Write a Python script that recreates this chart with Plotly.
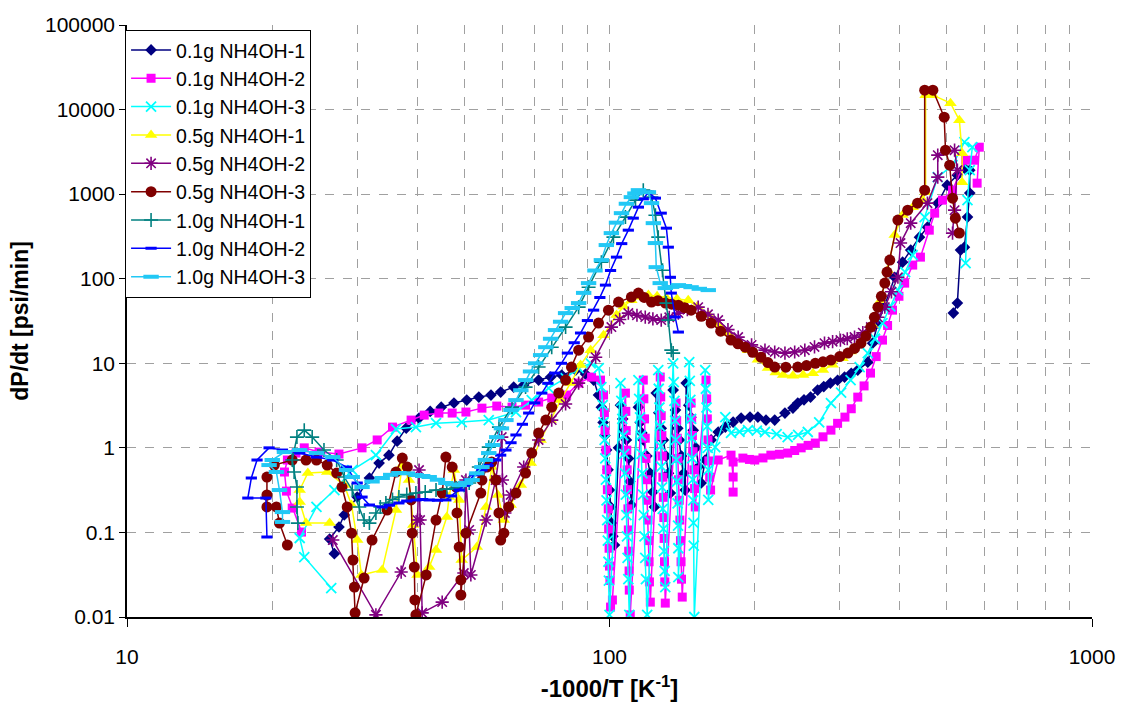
import plotly.graph_objects as go

# ---- measured data: dP/dt [psi/min] against -1000/T [1/K], as (x, y) pairs ----
a1 = [(26.9, 0.056), (26.3, 0.0836), (27.5, 0.116), (28.2, 0.161), (30.0, 0.262), (31.8, 0.44), (33.3, 0.66),
      (34.9, 0.82), (36.3, 1.2), (37.9, 1.71), (40.3, 2.25), (42.5, 2.7), (44.8, 3.03), (47.6, 3.39), (50.6, 3.67),
      (53.6, 3.98), (56.8, 4.21), (59.5, 4.57), (63.3, 5.23), (66.4, 5.52), (71.3, 6.33), (75.5, 6.87), (79.6, 7.25),
      (85.1, 8.31), (89.2, 7.45), (92.7, 6.33), (94.9, 4.21), (96.2, 3.03), (97.0, 2.0), (97.8, 1.4), (98.6, 0.942),
      (99.3, 0.55), (100.0, 0.317), (100.5, 0.2), (100.9, 0.129), (101.6, 0.09), (102.4, 0.071), (104.4, 1.0),
      (105.4, 3.2), (106.5, 2.2), (107.5, 1.6), (108.4, 1.24), (109.5, 0.75), (110.2, 0.4), (111.0, 0.211),
      (114.8, 3.03), (115.8, 2.0), (116.7, 1.5), (117.5, 1.24), (119.5, 0.8), (121.5, 0.5), (123.0, 0.3),
      (123.9, 0.2), (125.0, 4.44), (126.5, 2.6), (128.0, 1.7), (129.3, 1.24), (131.0, 0.8), (132.5, 0.5),
      (133.7, 0.292), (135.5, 4.82), (137.0, 2.8), (138.5, 1.7), (139.6, 1.24), (141.0, 0.8), (142.5, 0.5),
      (143.5, 0.317), (144.2, 5.83), (146.0, 3.2), (147.5, 2.3), (149.1, 1.62), (151.0, 1.0), (153.0, 0.6),
      (154.9, 0.384), (157.9, 0.718), (162.4, 1.24), (168.0, 1.54), (173.8, 1.76), (180.4, 2.02), (187.4, 2.25),
      (195.5, 2.31), (203.0, 2.31), (211.0, 2.13), (220.0, 2.13), (231.0, 2.58), (240.0, 2.95), (245.6, 3.39),
      (253.0, 3.7), (261.0, 3.98), (270.0, 4.82), (278.0, 5.3), (287.0, 5.83), (297.0, 6.3), (307.0, 6.87),
      (317.0, 7.6), (327.0, 8.31), (343.0, 10.3), (351.0, 17.3), (360.0, 29.9), (372.0, 48.7), (390.0, 104),
      (405.0, 157), (421.0, 218), (439.0, 310), (456.0, 407), (479.0, 783), (501.0, 1277), (526.0, 1678),
      (544.0, 2030), (558.0, 1920), (558.0, 1030), (552.0, 535), (544.0, 236), (534.0, 218), (526.0, 51.5),
      (516.0, 39.2)]

a2 = [(23.0, 0.101), (22.0, 0.194), (21.4, 0.308), (21.2, 0.518), (21.5, 0.718), (22.4, 0.868), (23.3, 1.0),
      (25.0, 0.892), (27.5, 0.845), (30.7, 1.0), (33.0, 1.24), (35.5, 1.76), (38.8, 2.13), (41.3, 2.44),
      (44.3, 2.58), (47.2, 2.58), (50.4, 2.65), (54.4, 2.95), (58.4, 3.12), (62.8, 3.03), (67.0, 3.2), (71.3, 3.48),
      (75.9, 3.88), (81.5, 4.21), (86.3, 5.83), (91.8, 6.87), (95.8, 6.33), (97.2, 4.21),
      (97.6, 2.6), (97.9, 1.6), (98.3, 0.94), (98.7, 0.55), (99.0, 0.32), (99.4, 0.19), (99.6, 0.11),
      (99.8, 0.065), (100.0, 0.04), (100.2, 0.027), (100.5, 0.0131), (101.4, 0.0159),
      (107.9, 4.44), (108.1, 2.7), (108.3, 1.6), (108.6, 0.94), (108.8, 0.55), (109.0, 0.32), (109.2, 0.19),
      (109.4, 0.107), (109.6, 0.06), (109.8, 0.035), (109.9, 0.0208), (110.4, 0.0106),
      (117.5, 6.33), (117.8, 3.8), (118.2, 2.2), (118.6, 1.3), (119.0, 0.75), (119.4, 0.42), (119.8, 0.24),
      (120.2, 0.14), (120.5, 0.08), (120.8, 0.045), (121.0, 0.026), (121.5, 0.015),
      (127.4, 6.87), (127.7, 4.0), (128.0, 2.4), (128.4, 1.4), (128.7, 0.8), (129.0, 0.45), (129.3, 0.26),
      (129.6, 0.15), (129.8, 0.085), (130.0, 0.045), (130.2, 0.026), (130.5, 0.0146),
      (137.4, 3.39), (137.8, 2.1), (138.2, 1.3), (138.6, 0.75), (139.0, 0.42), (139.5, 0.24), (139.9, 0.14),
      (140.3, 0.08), (140.7, 0.045), (141.0, 0.028), (141.5, 0.0172),
      (147.6, 3.39), (148.0, 2.2), (148.5, 1.4), (149.0, 0.9), (149.6, 0.55), (150.1, 0.33), (150.6, 0.2),
      (158.5, 6.33), (159.0, 3.8), (159.5, 2.2), (160.0, 1.24), (160.6, 0.7), (161.3, 0.45), (162.0, 0.317),
      (168.0, 0.718), (178.6, 0.82), (180.4, 0.452), (180.4, 0.3), (180.4, 0.68), (189.0, 0.757), (195.0, 0.73),
      (200.0, 0.718), (208.0, 0.76), (216.0, 0.82), (225.0, 0.84), (234.0, 0.868), (242.0, 0.93), (249.6, 1.0),
      (258.0, 1.07), (267.0, 1.14), (277.0, 1.35), (287.7, 1.62), (297.0, 1.95), (307.6, 2.31), (317.0, 2.9),
      (327.0, 3.98), (337.0, 5.4), (347.5, 7.66), (357.0, 12.0), (368.0, 18.8), (377.0, 28.0), (386.0, 42.5),
      (398.0, 62.0), (409.0, 88.7), (425.0, 145), (441.0, 180), (460.0, 375), (472.0, 596), (490.0, 849),
      (514.0, 1115), (547.0, 2520), (570.0, 2520), (584.0, 3590), (578.0, 1349)]

a3 = [(26.5, 0.022), (23.3, 0.0512), (22.8, 0.0859), (24.7, 0.2), (26.9, 0.317), (29.3, 0.547), (32.8, 0.82),
      (36.1, 1.67), (39.7, 1.76), (43.7, 1.96), (49.4, 2.02), (56.2, 2.13), (64.0, 2.65), (69.0, 3.67), (74.8, 5.09),
      (81.1, 6.68), (86.3, 8.77), (91.4, 10.0), (95.0, 8.77),
      (96.2, 5.23), (96.8, 3.2), (97.2, 2.0), (97.7, 1.24), (98.0, 0.75), (98.3, 0.42), (98.6, 0.24),
      (98.9, 0.14), (99.2, 0.08), (99.5, 0.045), (99.7, 0.027), (100.0, 0.0106),
      (105.4, 5.83), (105.8, 3.6), (106.3, 2.2), (106.8, 1.4), (107.3, 0.85), (107.7, 0.5), (108.1, 0.28),
      (108.4, 0.16), (108.7, 0.09), (109.0, 0.05), (109.4, 0.028), (109.9, 0.0106),
      (114.8, 6.33), (115.2, 3.8), (115.7, 2.3), (116.2, 1.4), (116.6, 0.85), (117.0, 0.5), (117.4, 0.28),
      (117.8, 0.16), (118.2, 0.09), (118.6, 0.05), (119.0, 0.028), (119.7, 0.0106),
      (126.2, 8.31), (126.5, 5.0), (126.9, 3.0), (127.3, 1.8), (127.7, 1.05), (128.1, 0.6), (128.5, 0.34),
      (128.9, 0.19), (129.3, 0.11), (129.7, 0.06), (130.1, 0.035), (130.5, 0.0226),
      (135.5, 10.0), (135.9, 6.0), (136.3, 3.6), (136.8, 2.1), (137.2, 1.24), (137.6, 0.72), (138.0, 0.4),
      (138.4, 0.22), (138.7, 0.12), (138.9, 0.065), (138.9, 0.0297),
      (146.3, 10.3), (146.7, 6.2), (147.1, 3.7), (147.6, 2.2), (148.0, 1.3), (148.4, 0.75), (148.8, 0.42),
      (149.1, 0.24), (149.3, 0.13), (149.5, 0.07), (149.9, 0.01),
      (157.9, 8.31), (158.4, 5.0), (158.9, 3.0), (159.3, 1.8), (159.8, 1.0), (160.2, 0.55), (160.2, 0.242),
      (165.6, 1.02), (173.8, 2.31), (178.6, 1.5), (186.0, 1.55), (193.7, 1.62), (202.0, 1.6), (210.0, 1.54),
      (222.0, 1.45), (234.0, 1.34), (246.0, 1.42), (257.6, 1.54), (272.0, 2.0), (287.7, 3.39), (302.0, 4.5),
      (316.0, 6.33), (330.0, 9.0), (343.0, 13.2), (355.0, 19.5), (368.0, 29.9), (382.0, 47.0), (396.0, 73.3),
      (410.0, 120), (425.0, 190), (450.0, 535), (479.0, 1589), (514.0, 2200), (544.0, 4120), (565.0, 3590),
      (558.0, 1920), (552.0, 849), (547.0, 153)]

b1 = [(26.3, 0.129), (23.5, 0.129), (22.8, 0.229), (22.8, 0.317), (23.7, 0.504), (26.0, 0.518), (28.2, 0.363),
      (29.2, 0.211), (30.0, 0.0813), (30.6, 0.0314), (33.8, 0.036), (36.1, 0.184), (37.2, 0.626), (38.4, 0.416),
      (39.2, 0.122), (40.0, 0.0314), (42.3, 0.039), (43.7, 0.0619), (46.0, 0.152), (46.5, 0.262), (47.6, 0.547),
      (48.8, 0.242), (49.4, 0.0472), (53.1, 0.0672), (55.5, 0.2), (57.0, 0.593), (58.7, 0.277), (60.4, 0.14),
      (62.4, 0.211), (65.5, 0.363), (68.7, 0.66), (72.0, 1.24), (75.5, 2.13), (79.2, 3.67), (83.0, 5.83),
      (87.1, 9.52), (91.4, 14.3), (97.2, 21.5), (103.4, 37.2), (107.0, 47.0), (111.0, 55.8), (115.5, 61.0),
      (120.4, 64.0), (125.5, 62.0), (131.2, 59.0), (138.0, 57.5), (145.6, 55.8), (152.0, 47.0), (160.2, 37.2),
      (168.0, 29.0), (176.2, 22.8), (185.0, 18.0), (193.7, 14.3), (203.0, 11.0), (213.0, 8.77), (221.0, 7.8),
      (229.0, 7.25), (240.0, 7.1), (252.0, 7.25), (264.0, 7.6), (277.0, 8.31), (290.0, 9.6), (304.0, 11.5),
      (316.0, 13.8), (330.0, 17.3), (351.0, 28.2), (365.0, 55.8), (377.0, 126), (390.0, 328), (405.0, 565),
      (425.0, 702), (446.0, 849), (452.0, 1055), (452.0, 14800), (468.0, 14800), (509.0, 11900), (531.0, 7500),
      (538.0, 3050), (538.0, 1387)]

b2 = [(26.7, 0.0813), (32.8, 0.0106), (37.0, 0.034), (40.0, 0.14), (40.3, 0.547), (40.5, 0.14), (40.9, 0.0112),
      (45.0, 0.015), (49.9, 0.0331), (50.4, 0.416), (51.2, 0.107), (51.6, 0.0314), (55.5, 0.14), (58.1, 0.416),
      (59.8, 1.34), (60.0, 0.416), (60.7, 0.17), (62.4, 0.277), (66.4, 0.593), (71.3, 1.24), (75.9, 2.13),
      (81.1, 3.3), (86.3, 5.83), (93.6, 11.8), (100.9, 26.8), (105.0, 33.0), (109.4, 39.2), (114.0, 37.0),
      (118.6, 35.2), (123.0, 33.5), (128.0, 32.4), (133.0, 35.0), (138.9, 39.2), (145.0, 43.0), (152.7, 46.1),
      (160.0, 38.0), (168.0, 32.4), (176.0, 25.0), (184.8, 20.4), (197.0, 16.5), (210.0, 14.3), (220.0, 13.6),
      (231.0, 13.2), (242.0, 13.6), (254.0, 14.3), (266.0, 15.6), (279.0, 17.3), (290.0, 18.0), (301.0, 18.8),
      (311.0, 19.5), (322.0, 20.4), (335.0, 23.0), (348.0, 26.8), (360.0, 35.0), (372.0, 46.1), (384.0, 70.0),
      (396.0, 104), (401.0, 264), (421.0, 454), (456.0, 783), (479.0, 1589), (479.0, 2890), (519.0, 3310),
      (526.0, 1920), (519.0, 647), (514.0, 346)]

b3 = [(21.5, 0.071), (20.7, 0.129), (20.4, 0.2), (19.5, 0.2), (19.5, 0.277), (19.5, 0.452), (20.2, 0.626),
      (22.0, 0.718), (23.5, 0.718), (24.7, 0.718), (26.0, 0.626), (27.2, 0.504), (27.9, 0.344), (28.6, 0.2),
      (29.2, 0.098), (29.4, 0.0472), (29.6, 0.0226), (29.7, 0.0112), (31.0, 0.0289), (32.2, 0.0813), (34.6, 0.184),
      (36.1, 0.518), (37.2, 0.757), (38.1, 0.593), (38.8, 0.242), (39.0, 0.098), (39.4, 0.039), (39.5, 0.0159),
      (39.7, 0.0106), (41.7, 0.0314), (43.7, 0.14), (45.0, 0.292), (45.8, 0.778), (47.2, 0.593), (48.1, 0.344),
      (48.3, 0.17), (48.8, 0.0672), (49.2, 0.0274), (49.2, 0.0182), (50.4, 0.098), (54.1, 0.292), (54.4, 0.416),
      (55.7, 0.593), (57.0, 0.68), (58.1, 0.416), (59.0, 0.17), (59.5, 0.0813), (60.4, 0.098), (61.8, 0.2),
      (64.0, 0.292), (67.0, 0.504), (69.0, 0.868), (71.3, 1.5), (73.8, 2.13), (75.9, 3.03), (78.5, 4.44),
      (81.1, 6.33), (83.4, 9.02), (86.3, 14.3), (90.5, 20.4), (94.9, 29.9), (99.5, 42.5), (104.4, 52.9),
      (111.0, 60.6), (114.8, 67.6), (118.0, 60.0), (122.2, 52.9), (126.0, 55.0), (130.6, 51.5), (134.5, 50.0),
      (138.9, 48.7), (143.0, 45.5), (147.6, 42.5), (155.0, 36.0), (162.4, 29.9), (170.0, 24.0), (178.6, 18.8),
      (184.6, 17.0), (191.0, 15.5), (198.0, 13.5), (206.0, 11.8), (213.0, 10.2), (220.0, 9.02), (232.0, 9.0),
      (245.6, 9.02), (256.0, 9.4), (267.0, 10.0), (277.0, 10.4), (287.7, 10.9), (300.0, 12.0), (312.0, 13.2),
      (322.0, 15.0), (332.0, 17.3), (340.0, 21.0), (348.0, 26.8), (354.0, 35.0), (360.0, 46.1), (366.0, 62.0),
      (372.0, 88.7), (376.0, 120), (381.0, 166), (396.0, 493), (415.0, 647), (435.0, 783), (450.0, 1115),
      (450.0, 16950), (468.0, 16950), (494.0, 8130), (497.0, 3310), (507.0, 2200), (514.0, 897), (521.0, 520),
      (531.0, 346)]

c1 = [(22.6, 0.129), (22.5, 0.2), (22.5, 0.344), (22.2, 0.518), (22.0, 0.718), (22.5, 1.34), (23.3, 1.62),
      (24.2, 1.34), (25.6, 0.942), (27.2, 0.718), (28.2, 0.452), (29.3, 0.317), (30.3, 0.2), (31.0, 0.14),
      (31.8, 0.129), (32.8, 0.17), (33.5, 0.2), (34.4, 0.223), (35.5, 0.245), (36.6, 0.262), (38.0, 0.28),
      (39.7, 0.292), (41.5, 0.3), (43.7, 0.317), (46.0, 0.325), (48.1, 0.335), (50.0, 0.36), (51.2, 0.384),
      (53.6, 0.593), (56.2, 1.02), (59.0, 1.76), (62.8, 3.03), (67.0, 5.23), (71.3, 9.02), (75.9, 15.5),
      (81.1, 26.8), (86.3, 46.1), (90.5, 79.4), (96.2, 157), (101.9, 310), (107.9, 535), (113.2, 849),
      (117.5, 1115), (122.2, 922), (124.5, 564), (126.2, 310), (128.8, 126), (131.2, 51.5), (132.4, 32.4),
      (134.3, 14.3), (135.5, 13.2)]

c2 = [(19.5, 0.0883), (19.4, 0.255), (17.8, 0.255), (18.1, 0.44), (18.6, 0.718), (19.7, 1.0), (21.0, 0.942),
      (22.8, 0.868), (24.7, 0.778), (26.7, 0.718), (28.5, 0.593), (30.0, 0.384), (30.7, 0.262), (31.8, 0.211),
      (33.8, 0.2), (35.0, 0.21), (36.6, 0.223), (38.0, 0.235), (39.7, 0.242), (41.0, 0.245), (42.3, 0.242),
      (44.0, 0.24), (45.8, 0.242), (47.0, 0.27), (48.8, 0.317), (50.0, 0.36), (51.2, 0.416), (52.5, 0.48),
      (54.4, 0.547), (56.0, 0.62), (58.1, 0.718), (59.5, 0.82), (61.0, 0.942), (62.5, 1.15), (64.0, 1.42),
      (66.0, 1.9), (68.0, 2.58), (70.0, 3.4), (72.4, 4.44), (74.5, 5.8), (77.0, 7.66), (79.5, 10.0), (81.8, 13.2),
      (84.5, 17.5), (87.1, 22.8), (90.0, 32.0), (92.7, 42.5), (95.5, 60.0), (98.1, 84.0), (100.5, 125),
      (103.4, 180), (106.0, 260), (109.4, 375), (112.0, 520), (114.8, 702), (117.5, 880), (120.4, 1055),
      (124.5, 897), (128.0, 596), (131.2, 396), (132.4, 236), (133.7, 104), (134.3, 67.6), (136.8, 35.2),
      (138.9, 23.4)]

c3 = [(21.0, 0.133), (21.0, 0.174), (20.7, 0.317), (20.4, 0.518), (19.7, 0.626), (20.0, 0.718), (21.2, 0.892),
      (22.8, 0.942), (24.7, 0.868), (26.7, 0.778), (28.5, 0.547), (29.3, 0.452), (30.7, 0.344), (32.2, 0.4),
      (33.8, 0.44), (35.2, 0.48), (36.6, 0.504), (38.1, 0.5), (39.7, 0.477), (41.0, 0.465), (42.3, 0.452),
      (44.0, 0.42), (45.8, 0.384), (47.3, 0.37), (48.8, 0.363), (50.3, 0.385), (51.9, 0.416), (53.1, 0.5),
      (54.4, 0.593), (55.3, 0.72), (56.2, 0.868), (57.3, 1.08), (58.4, 1.34), (59.7, 1.7), (61.0, 2.13),
      (62.5, 2.8), (64.0, 3.67), (65.5, 4.8), (67.0, 6.33), (68.6, 8.0), (70.3, 10.0), (72.0, 12.5), (73.8, 15.5),
      (75.5, 19.5), (77.3, 24.7), (79.2, 31.0), (81.1, 39.2), (83.7, 45.0), (86.3, 51.5), (88.4, 68.0),
      (90.5, 88.7), (93.3, 125), (96.2, 166), (98.5, 250), (100.9, 346), (103.4, 460), (105.9, 596), (108.4, 770),
      (111.0, 922), (112.9, 1020), (114.8, 1115), (120.4, 1055), (122.2, 783), (123.3, 454), (124.5, 264),
      (125.0, 137), (127.4, 88.7), (130.5, 77.4), (134.5, 80.0), (138.9, 84.0), (143.0, 82.0), (147.6, 79.4),
      (153.5, 76.0), (160.2, 73.3)]

series_names = ["0.1g NH4OH-1", "0.1g NH4OH-2", "0.1g NH4OH-3",
                "0.5g NH4OH-1", "0.5g NH4OH-2", "0.5g NH4OH-3",
                "1.0g NH4OH-1", "1.0g NH4OH-2", "1.0g NH4OH-3"]
series_data = [a1, a2, a3, b1, b2, b3, c1, c2, c3]

y_tick_vals = [0.01, 0.1, 1, 10, 100, 1000, 10000, 100000]
y_tick_text = ["0.01", "0.1", "1", "10", "100", "1000", "10000", "100000"]
x_tick_vals = [10, 100, 1000]
x_tick_text = ["10", "100", "1000"]

# colour, marker symbol, marker size, marker outline width
styles = [
    ("#000080", "diamond", 9, 0),
    ("#FF00FF", "square", 9, 0),
    ("#00FFFF", "x-thin-open", 10, 1.8),
    ("#FFFF00", "triangle-up", 11, 0),
    ("#800080", "asterisk-open", 11, 1.6),
    ("#800000", "circle", 11, 0),
    ("#008080", "cross-thin-open", 10, 1.6),
    ("#0000FF", "line-ew-open", 8, 3),
    ("#22C8F5", "line-ew-open", 11, 4),
]

FONT = "Liberation Sans, Arial, sans-serif"

fig = go.Figure()
for name, pts, (col, sym, size, lw) in zip(series_names, series_data, styles):
    xs = [p[0] for p in pts]
    ys = [p[1] for p in pts]
    fig.add_trace(go.Scatter(
        x=xs, y=ys, name=name, mode="lines+markers",
        line=dict(color=col, width=1.5),
        marker=dict(symbol=sym, size=size, color=col, line=dict(color=col, width=lw)),
    ))

grid_col = "#A0A0A0"
fig.update_layout(
    width=1127, height=713,
    paper_bgcolor="white", plot_bgcolor="white",
    margin=dict(l=127, r=32, t=25, b=96),
    font=dict(family=FONT, color="black"),
    showlegend=True,
    legend=dict(
        x=-0.002, y=0.992, xanchor="left", yanchor="top",
        bgcolor="white", bordercolor="black", borderwidth=1,
        font=dict(size=19.5, family=FONT, color="black"),
        itemwidth=40,
    ),
    xaxis=dict(
        type="log", range=[1, 3],
        tickvals=x_tick_vals, ticktext=x_tick_text,
        ticks="outside", ticklen=8, tickcolor="black",
        ticklabelstandoff=12,
        tickfont=dict(size=21),
        showline=True, linecolor="black", linewidth=1.5,
        showgrid=True, gridcolor=grid_col, griddash="dash", gridwidth=1,
        minor=dict(dtick="D1", showgrid=True, gridcolor=grid_col, griddash="dash", gridwidth=1, ticks=""),
        zeroline=False,
        title=dict(text="<b>-1000/T [K<sup>-1</sup>]</b>", font=dict(size=24), standoff=13),
    ),
    yaxis=dict(
        type="log", range=[-2, 5],
        tickvals=y_tick_vals, ticktext=y_tick_text,
        ticks="outside", ticklen=6, tickcolor="black",
        tickfont=dict(size=21),
        showline=True, linecolor="black", linewidth=1.5,
        showgrid=True, gridcolor=grid_col, griddash="dash", gridwidth=1,
        zeroline=False,
        title=dict(text="<b>dP/dt [psi/min]</b>", font=dict(size=23), standoff=10),
    ),
)

fig.write_html("out.html")
